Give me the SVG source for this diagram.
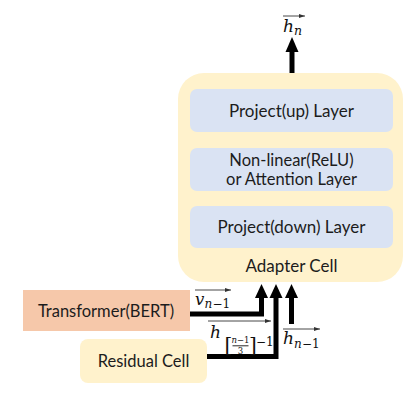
<svg xmlns="http://www.w3.org/2000/svg" width="419" height="404" viewBox="0 0 419 404">
<style>
.lbl{font-family:"Lato","Liberation Sans",sans-serif;font-size:17px;fill:#1c1c1c;text-anchor:middle}
.m{font-family:"DejaVu Serif","Liberation Serif",serif;font-style:italic;fill:#111}
.r{font-family:"DejaVu Serif","Liberation Serif",serif;fill:#111}
.layer{fill:#dae3f3}
.wire{fill:none;stroke:#000;stroke-width:5}
.vec{stroke:#333;stroke-width:0.9;fill:none;marker-end:url(#vh)}
</style>
<defs>
<marker id="vh" viewBox="0 0 6 4" refX="6" refY="2" markerWidth="6" markerHeight="4" markerUnits="userSpaceOnUse" orient="auto">
<path d="M0,0 L6,2 L0,4 Z" fill="#333"/>
</marker>
</defs>
<rect width="419" height="404" fill="#fff"/>
<g id="adapter-cell">
<rect x="178" y="73" width="225" height="209" rx="26" fill="#fff2cc"/>
<text class="lbl" x="291.5" y="272">Adapter Cell</text>
</g>
<g id="project-up">
<rect class="layer" x="190" y="89" width="203" height="43" rx="7"/>
<text class="lbl" x="291.5" y="116.5">Project(up) Layer</text>
</g>
<g id="nonlinear">
<rect class="layer" x="190" y="148" width="203" height="43" rx="7"/>
<text class="lbl" x="291.5" y="166" style="font-size:16.5px">Non-linear(ReLU)</text>
<text class="lbl" x="291.5" y="185" style="font-size:16.5px">or Attention Layer</text>
</g>
<g id="project-down">
<rect class="layer" x="190" y="206" width="203" height="42" rx="7"/>
<text class="lbl" x="291.5" y="233">Project(down) Layer</text>
</g>
<g id="transformer">
<rect x="23" y="290" width="167" height="41" fill="#f6c8aa"/>
<text class="lbl" x="106" y="316.5" style="font-size:16.5px">Transformer(BERT)</text>
</g>
<g id="residual">
<rect x="80" y="339" width="127" height="44" rx="8" fill="#fff2cc"/>
<text class="lbl" x="143.5" y="367" style="font-size:16.5px">Residual Cell</text>
</g>
<g id="connectors">
<path class="wire" d="M292,73 V50"/>
<polygon points="292,37 285.5,52 298.5,52" fill="#000"/>
<path class="wire" d="M190,314 H261.5 V296"/>
<polygon points="261.5,284 255,298 268,298" fill="#000"/>
<path class="wire" d="M207,356.5 H276 V296"/>
<polygon points="276,284 269.5,298 282.5,298" fill="#000"/>
<path class="wire" d="M291.5,324 V296"/>
<polygon points="291.5,284 285,298 298,298" fill="#000"/>
</g>
<g id="labels">
<g id="lbl-hn">
<path class="vec" d="M283,16 H305"/>
<text class="m" x="283" y="32" font-size="17">h</text>
<text class="m" x="294" y="35" font-size="12.5">n</text>
</g>
<g id="lbl-v">
<path class="vec" d="M195,290 H231"/>
<text class="m" x="195" y="304.5" font-size="16.5">v</text>
<text class="m" x="204.5" y="308" font-size="12">n</text>
<text class="r" x="212.5" y="308" font-size="12">−1</text>
</g>
<g id="lbl-hskip">
<path class="vec" d="M208,321 H271"/>
<text class="m" x="210" y="337.5" font-size="17">h</text>
<text class="r" x="224.5" y="351.5" font-size="20">[</text>
<text class="m" x="240.5" y="343" font-size="8.5" text-anchor="middle">n<tspan class="r" font-style="normal">−1</tspan></text>
<line x1="232.5" y1="345.8" x2="248.5" y2="345.8" stroke="#111" stroke-width="0.9"/>
<text class="r" x="240.5" y="354" font-size="8.5" text-anchor="middle">3</text>
<text class="r" x="249" y="351.5" font-size="20">]</text>
<text class="r" x="256" y="346" font-size="12">−1</text>
</g>
<g id="lbl-hprev">
<path class="vec" d="M283,329 H320"/>
<text class="m" x="283" y="344" font-size="17">h</text>
<text class="m" x="294" y="348" font-size="12">n</text>
<text class="r" x="302" y="348" font-size="12">−1</text>
</g>
</g>
</svg>
